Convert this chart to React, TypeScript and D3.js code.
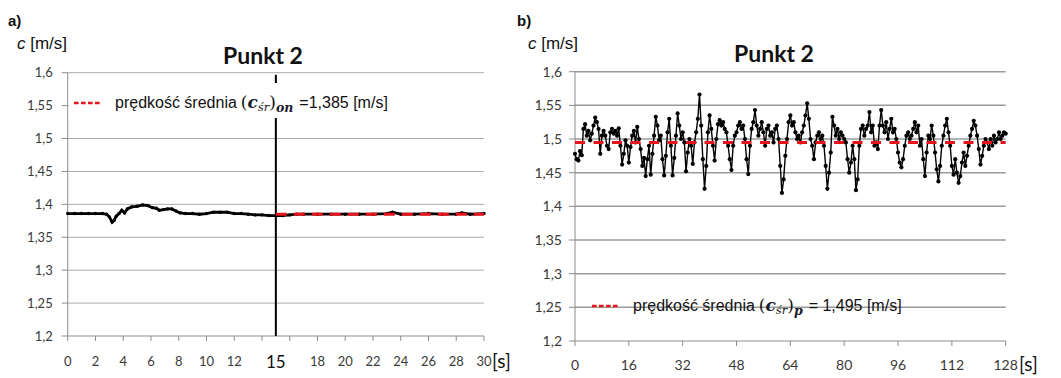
import React from 'react';
import * as d3 from 'd3';

// ---------- data ----------
const Y_TICKS = [1.2, 1.25, 1.3, 1.35, 1.4, 1.45, 1.5, 1.55, 1.6];

const LEFT_X_TICKS = [0, 2, 4, 6, 8, 10, 12, 14, 16, 18, 20, 22, 24, 26, 28, 30];
const LEFT_X_LABELS = [0, 2, 4, 6, 8, 10, 12, 18, 20, 22, 24, 26, 28, 30];
const LEFT_MARK_T = 15;
const LEFT_MEAN = 1.385;

const LEFT_T = [0, 0.5, 1, 1.5, 2, 2.5, 2.8, 3.0, 3.2, 3.35, 3.5, 3.7, 3.9, 4.1, 4.3, 4.6, 5.0, 5.4, 5.8, 6.1, 6.4, 6.6, 6.9, 7.2, 7.5, 7.8, 8.1, 8.5, 9, 9.5, 10, 10.5, 11, 11.5, 12, 12.5, 13, 13.5, 14, 14.5, 15, 15.5, 16, 16.5, 17, 18, 19, 20, 21, 22, 23, 23.4, 24, 25, 26, 27, 28, 28.4, 29, 30];
const LEFT_C = [1.386, 1.386, 1.386, 1.386, 1.386, 1.386, 1.385, 1.381, 1.373, 1.376, 1.382, 1.386, 1.391, 1.387, 1.393, 1.396, 1.397, 1.399, 1.398, 1.395, 1.394, 1.391, 1.392, 1.393, 1.393, 1.39, 1.387, 1.386, 1.386, 1.385, 1.386, 1.388, 1.388, 1.388, 1.386, 1.386, 1.385, 1.384, 1.384, 1.383, 1.383, 1.383, 1.384, 1.385, 1.385, 1.385, 1.385, 1.385, 1.385, 1.385, 1.386, 1.388, 1.385, 1.385, 1.386, 1.385, 1.385, 1.387, 1.385, 1.386];

const RIGHT_X_TICKS = [0, 16, 32, 48, 64, 80, 96, 112, 128];
const RIGHT_MEAN = 1.495;
const RIGHT_DT = 0.5;
const RIGHT_C = [
  1.478, 1.470, 1.468, 1.482, 1.476, 1.515, 1.522, 1.505,
  1.512, 1.498, 1.508, 1.520, 1.532, 1.525, 1.515, 1.478,
  1.505, 1.512, 1.505, 1.490, 1.485, 1.510, 1.515, 1.508,
  1.512, 1.505, 1.516, 1.490, 1.462, 1.478, 1.498, 1.490,
  1.465, 1.488, 1.505, 1.512, 1.495, 1.518, 1.500, 1.485,
  1.460, 1.472, 1.445, 1.470, 1.490, 1.447, 1.478, 1.505,
  1.533, 1.520, 1.498, 1.505, 1.470, 1.446, 1.475, 1.510,
  1.530, 1.490, 1.446, 1.472, 1.505, 1.538, 1.520, 1.500,
  1.510, 1.495, 1.452, 1.480, 1.500, 1.490, 1.463, 1.495,
  1.510, 1.530, 1.566, 1.520, 1.470, 1.426, 1.460, 1.510,
  1.535, 1.515, 1.490, 1.468, 1.500, 1.522, 1.528, 1.520,
  1.525, 1.515, 1.510, 1.490, 1.470, 1.454, 1.490, 1.505,
  1.510, 1.520, 1.525, 1.515, 1.520, 1.500, 1.470, 1.448,
  1.490, 1.515, 1.525, 1.543, 1.520, 1.505, 1.515, 1.525,
  1.510, 1.490, 1.515, 1.520, 1.505, 1.510, 1.495, 1.515,
  1.520, 1.500, 1.460, 1.420, 1.440, 1.475, 1.500, 1.525,
  1.535, 1.520, 1.525, 1.510, 1.500, 1.505, 1.495, 1.510,
  1.520, 1.535, 1.553, 1.530, 1.500, 1.490, 1.470, 1.495,
  1.505, 1.510, 1.500, 1.505, 1.490, 1.460, 1.426, 1.450,
  1.480, 1.533, 1.520, 1.505, 1.515, 1.500, 1.510, 1.505,
  1.500, 1.495, 1.470, 1.450, 1.465, 1.490, 1.470, 1.424,
  1.440, 1.490, 1.515, 1.520, 1.505, 1.515, 1.520, 1.540,
  1.510, 1.520, 1.490, 1.495, 1.485, 1.520, 1.543, 1.520,
  1.510, 1.525, 1.500, 1.515, 1.530, 1.510, 1.515, 1.500,
  1.480, 1.465, 1.458, 1.470, 1.490, 1.505, 1.510, 1.500,
  1.505, 1.515, 1.525, 1.510, 1.520, 1.490, 1.500, 1.470,
  1.445, 1.480, 1.505, 1.500, 1.520, 1.505, 1.480, 1.455,
  1.437, 1.460, 1.490, 1.505, 1.520, 1.530, 1.510, 1.490,
  1.460, 1.447, 1.470, 1.450, 1.435, 1.445, 1.465, 1.480,
  1.460, 1.475, 1.490, 1.505, 1.515, 1.527, 1.520, 1.505,
  1.485, 1.462, 1.475, 1.490, 1.500, 1.495, 1.485, 1.500,
  1.490, 1.505, 1.495, 1.500, 1.510, 1.500, 1.505, 1.510,
  1.508,
];

// ---------- helpers ----------
const fmt = (v: number) => String(v).replace('.', ',');
const SANS = '"Liberation Sans", Arial, sans-serif';
const TICKF = 'Lato, "Liberation Sans", sans-serif';
const MATH = '"DejaVu Serif", "Liberation Serif", serif';
const RED = '#e8141b';

function Legend({ x, y, sub, value }: { x: number; y: number; sub: string; value: string }) {
  return (
    <g>
      <line x1={x} x2={x + 26} y1={y - 5} y2={y - 5} stroke={RED} strokeWidth={2.6} strokeDasharray="4.6 2.4" />
      <text x={x + 41} y={y} fontFamily={SANS} fontSize={16} fill="#111">
        prędkość średnia
        <tspan fontFamily={MATH} fontSize={17} dx={4}>(</tspan>
        <tspan fontFamily={MATH} fontSize={17} fontStyle="italic" fontWeight="bold" fill="#1a1a2e">c</tspan>
        <tspan fontFamily={MATH} fontSize={11.5} fontStyle="italic" dy={3}>śr</tspan>
        <tspan fontFamily={MATH} fontSize={17} dy={-3}>)</tspan>
        <tspan fontFamily={MATH} fontSize={12.5} fontStyle="italic" fontWeight="bold" fill="#1a1a2e" dy={4}>{sub}</tspan>
        <tspan dy={-4} dx={6}>{value}</tspan>
      </text>
    </g>
  );
}

function YAxis({ x0, x1, y, fontSize, grid, gw, gap }: { x0: number; x1: number; y: d3.ScaleLinear<number, number>; fontSize: number; grid: string; gw: number; gap: number }) {
  return (
    <g>
      {Y_TICKS.map((v) => (
        <g key={v}>
          {v > 1.2 && <line x1={x0} x2={x1} y1={y(v)} y2={y(v)} stroke={grid} strokeWidth={gw} />}
          <line x1={x0 - 6} x2={x0} y1={y(v)} y2={y(v)} stroke="#8c8c8c" strokeWidth={1} />
          <text x={x0 - gap} y={y(v)} dy="0.35em" textAnchor="end" fontFamily={TICKF} fontSize={fontSize} fill="#3a3a3a">
            {fmt(v)}
          </text>
        </g>
      ))}
      <line x1={x0} x2={x0} y1={y(1.6)} y2={y(1.2)} stroke="#8c8c8c" strokeWidth={1} />
      <line x1={x0} x2={x1} y1={y(1.2)} y2={y(1.2)} stroke="#8c8c8c" strokeWidth={1} />
    </g>
  );
}

export default function App() {
  // left panel scales
  const xL = d3.scaleLinear().domain([0, 30]).range([67.7, 484]);
  const yL = d3.scaleLinear().domain([1.2, 1.6]).range([336, 72.7]);
  // right panel scales
  const xR = d3.scaleLinear().domain([0, 128]).range([575, 1005.7]);
  const yR = d3.scaleLinear().domain([1.2, 1.6]).range([341, 71.7]);

  const leftPts = LEFT_T.map((t, i) => [t, LEFT_C[i]] as [number, number]);
  const rightPts = RIGHT_C.map((c, i) => [i * RIGHT_DT, c] as [number, number]);

  const lineL = d3.line<[number, number]>().x((d) => xL(d[0])).y((d) => yL(d[1]));
  const lineR = d3.line<[number, number]>().x((d) => xR(d[0])).y((d) => yR(d[1]));

  return (
    <svg width={1061} height={378} style={{ position: 'absolute', left: 0, top: 0, background: '#fff' }}>
      <rect width={1061} height={378} fill="#fff" />

      {/* ---------------- LEFT PANEL ---------------- */}
      <text x={8} y={26} fontFamily={SANS} fontWeight="bold" fontSize={15} fill="#111">a)</text>
      <text x={17} y={49} fontFamily={SANS} fontSize={17} fill="#111">
        <tspan fontStyle="italic">c</tspan> [m/s]
      </text>
      <text x={263} y={64} textAnchor="middle" fontFamily={TICKF} fontWeight="bold" fontSize={23} fill="#111">Punkt 2</text>

      <YAxis x0={xL(0)} x1={xL(30)} y={yL} fontSize={13} grid="#ababab" gw={1} gap={15} />

      {LEFT_X_TICKS.map((t) => (
        <line key={t} x1={xL(t)} x2={xL(t)} y1={yL(1.2)} y2={yL(1.2) + 5} stroke="#8c8c8c" />
      ))}
      {LEFT_X_LABELS.map((t) => (
        <text key={t} x={xL(t)} y={366} textAnchor="middle" fontFamily={TICKF} fontSize={13} fill="#3a3a3a">{t}</text>
      ))}
      <text x={xL(LEFT_MARK_T)} y={367.5} textAnchor="middle" fontFamily={TICKF} fontSize={17} fill="#111">{LEFT_MARK_T}</text>
      <text x={492} y={368} fontFamily={TICKF} fontSize={19} fill="#111">[s]</text>

      {/* vertical marker */}
      <line x1={xL(LEFT_MARK_T)} x2={xL(LEFT_MARK_T)} y1={yL(1.6) + 2} y2={yL(1.2)} stroke="#000" strokeWidth={2} />

      {/* data */}
      <path d={lineL(leftPts) || ''} fill="none" stroke="#000" strokeWidth={2.8} />
      {leftPts.map((d, i) => (
        <circle key={i} cx={xL(d[0])} cy={yL(d[1])} r={1.7} fill="#000" />
      ))}
      <line x1={xL(LEFT_MARK_T)} x2={xL(30)} y1={yL(LEFT_MEAN)} y2={yL(LEFT_MEAN)} stroke={RED} strokeWidth={3} strokeDasharray="11 7" />

      {/* legend box */}
      <rect x={xL(0) + 1} y={83} width={xL(30) - xL(0) + 6} height={35} fill="#fff" />
      <Legend x={74} y={108} sub="on" value="=1,385 [m/s]" />

      {/* ---------------- RIGHT PANEL ---------------- */}
      <text x={517} y={26} fontFamily={SANS} fontWeight="bold" fontSize={15} fill="#111">b)</text>
      <text x={528} y={49} fontFamily={SANS} fontSize={17} fill="#111">
        <tspan fontStyle="italic">c</tspan> [m/s]
      </text>
      <text x={774} y={62} textAnchor="middle" fontFamily={TICKF} fontWeight="bold" fontSize={23} fill="#111">Punkt 2</text>

      <YAxis x0={xR(0)} x1={xR(128)} y={yR} fontSize={14} grid="#9a9a9a" gw={1.5} gap={13} />

      {RIGHT_X_TICKS.map((t) => (
        <g key={t}>
          <line x1={xR(t)} x2={xR(t)} y1={yR(1.2)} y2={yR(1.2) + 5} stroke="#8c8c8c" />
          <text x={xR(t)} y={370} textAnchor="middle" fontFamily={TICKF} fontSize={14} fill="#3a3a3a">{t}</text>
        </g>
      ))}
      <text x={1019} y={371} fontFamily={TICKF} fontSize={19} fill="#111">[s]</text>

      <path d={lineR(rightPts) || ''} fill="none" stroke="#000" strokeWidth={1.4} />
      {rightPts.map((d, i) => (
        <circle key={i} cx={xR(d[0])} cy={yR(d[1])} r={2.1} fill="#000" />
      ))}
      <line x1={xR(0)} x2={xR(128)} y1={yR(RIGHT_MEAN)} y2={yR(RIGHT_MEAN)} stroke={RED} strokeWidth={3} strokeDasharray="10 8.5" />

      <Legend x={592} y={311} sub="p" value="= 1,495 [m/s]" />
    </svg>
  );
}
